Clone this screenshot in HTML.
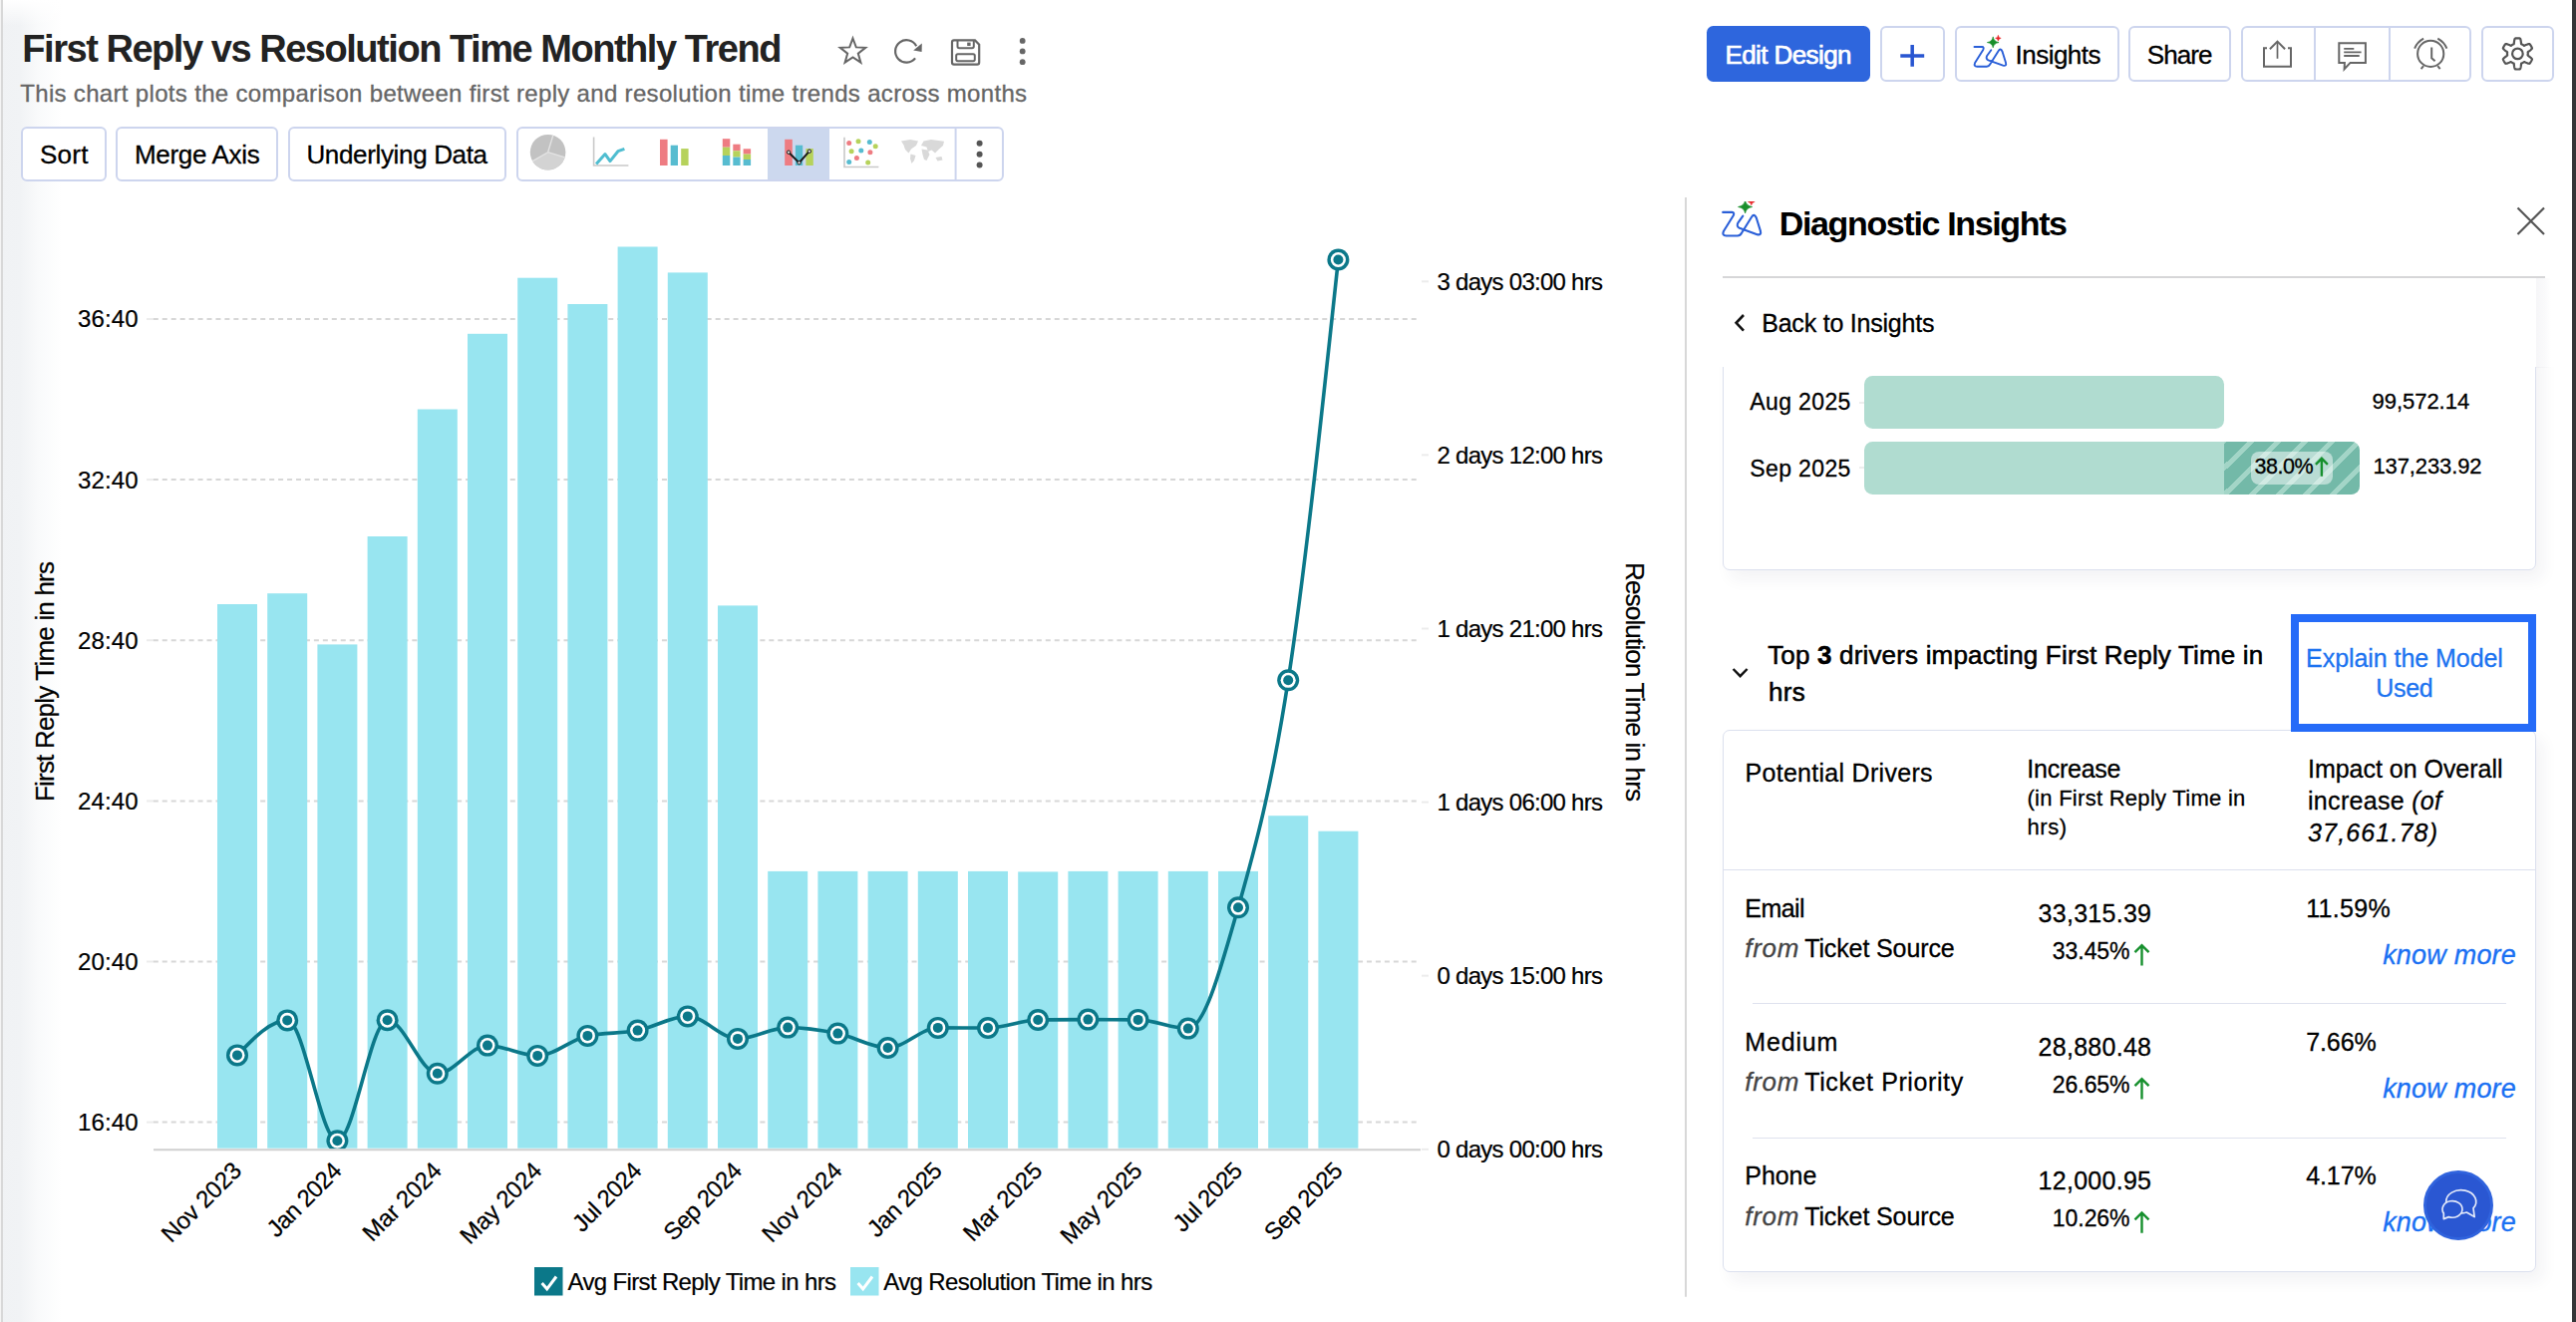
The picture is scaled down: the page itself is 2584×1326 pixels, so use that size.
<!DOCTYPE html><html><head><meta charset="utf-8"><title>First Reply vs Resolution Time Monthly Trend</title><style>
html,body{margin:0;padding:0;background:#fff}
body{width:2584px;height:1326px;position:relative;overflow:hidden;font-family:'Liberation Sans', sans-serif;color:#000}
.abs{position:absolute}
.t{position:absolute;white-space:pre;margin:0;-webkit-text-stroke:0.3px}
.t b{font-weight:700}
</style></head><body>
<div class="abs" style="left:0;top:0;width:64px;height:1326px;background:linear-gradient(to right,#f0f2f4 0,#f1f3f5 20px,#f9fafb 38px,#fff 62px)"></div>
<div class="abs" style="left:0;top:0;width:1px;height:1326px;background:#f4f4f4"></div>
<div class="abs" style="left:1px;top:0;width:2px;height:1326px;background:#d8d8d8"></div>
<div class="abs" style="left:3px;top:0;width:61px;height:26px;background:linear-gradient(to bottom,#fff,rgba(255,255,255,0))"></div>
<div class="abs" style="left:2580px;top:0;width:4px;height:1326px;background:#343537"></div>
<div class="abs" style="left:21px;top:127px;width:86px;height:55px;box-sizing:border-box;border:2px solid #cdd5ee;border-radius:6px;background:#fff;"></div>
<div class="abs" style="left:116px;top:127px;width:163px;height:55px;box-sizing:border-box;border:2px solid #cdd5ee;border-radius:6px;background:#fff;"></div>
<div class="abs" style="left:289px;top:127px;width:219px;height:55px;box-sizing:border-box;border:2px solid #cdd5ee;border-radius:6px;background:#fff;"></div>
<div class="abs" style="left:518px;top:127px;width:489px;height:55px;box-sizing:border-box;border:2px solid #cdd5ee;border-radius:6px;background:#fff;"></div>
<div class="abs" style="left:1711.5px;top:26.2px;width:164.5px;height:55.7px;border-radius:6.5px;background:#2e66dd"></div>
<div class="abs" style="left:1886px;top:26px;width:65px;height:56px;box-sizing:border-box;border:2px solid #cdd5ee;border-radius:6px;background:#fff;"></div>
<div class="abs" style="left:1961px;top:26px;width:165px;height:56px;box-sizing:border-box;border:2px solid #cdd5ee;border-radius:6px;background:#fff;"></div>
<div class="abs" style="left:2135px;top:26px;width:103px;height:56px;box-sizing:border-box;border:2px solid #cdd5ee;border-radius:6px;background:#fff;"></div>
<div class="abs" style="left:2248px;top:26px;width:231px;height:56px;box-sizing:border-box;border:2px solid #cdd5ee;border-radius:6px;background:#fff;"></div>
<div class="abs" style="left:2320.7px;top:28px;width:2px;height:52px;background:#cdd5ee"></div>
<div class="abs" style="left:2396px;top:28px;width:2px;height:52px;background:#cdd5ee"></div>
<div class="abs" style="left:2489px;top:26px;width:73px;height:56px;box-sizing:border-box;border:2px solid #cdd5ee;border-radius:6px;background:#fff;"></div>
<div class="abs" style="left:1727.8px;top:277px;width:825.2px;height:2.2px;background:#d6d6d8"></div>
<div class="abs" style="left:2544px;top:279px;width:15px;height:90px;background:linear-gradient(to right,#f6f6f8,#fafafb 60%,#fff)"></div>
<div class="abs" style="left:1697px;top:368.3px;width:880px;height:240px;overflow:hidden"><div style="position:absolute;left:30.7px;top:-20px;width:816.3px;height:224.2px;box-sizing:border-box;border:1px solid #dce0ee;border-radius:7px;background:#fff;box-shadow:7px 9px 16px rgba(30,40,70,.055)"></div></div>
<div class="abs" style="left:1865px;top:402.6px;width:5px;height:2px;background:#eee"></div>
<div class="abs" style="left:1865px;top:468.4px;width:5px;height:2px;background:#eee"></div>
<div class="abs" style="left:1870.3px;top:377.4px;width:360.5px;height:52.3px;border-radius:8.5px;background:#b0dcd0"></div>
<div class="abs" style="left:1870.3px;top:443.2px;width:497px;height:52.8px;border-radius:8.5px;background:#b0dcd0;overflow:hidden"><div style="position:absolute;left:360.7px;top:0;width:136.3px;height:52.8px;background:repeating-linear-gradient(135deg,#73b9a8 0,#73b9a8 14.6px,#a3d5c7 14.6px,#a3d5c7 19.1px);background-position:3px 0"></div></div>
<div class="abs" style="left:2258px;top:453px;width:82px;height:32.6px;border-radius:8px;background:rgba(255,255,255,.5)"></div>
<div class="abs" style="left:1727.7px;top:732.3px;width:816.3px;height:543.4px;box-sizing:border-box;border:1px solid #dce0ee;border-radius:7px;background:#fff;box-shadow:7px 9px 16px rgba(30,40,70,.055)"></div>
<div class="abs" style="left:2298px;top:616px;width:246px;height:118px;box-sizing:border-box;border:8px solid #256bf8;background:#fff"></div>
<div class="abs" style="left:1728.2px;top:871.5px;width:815.3px;height:1px;background:#dce0ee"></div>
<div class="abs" style="left:1758px;top:1006px;width:755.6px;height:1px;background:#dfe2ee"></div>
<div class="abs" style="left:1758px;top:1140.5px;width:755.6px;height:1px;background:#dfe2ee"></div>
<svg class="abs" style="left:0;top:0" width="2584" height="1326" viewBox="0 0 2584 1326">
<path d="M2328.9,477.7 V460.2 M2322.9,465.8 L2328.9,459.8 L2334.9,465.8" stroke="#17902e" stroke-width="2.4" fill="none"/>
<path d="M2148.5,968.6 V948.6 M2141.5,955.2 L2148.5,948.2 L2155.5,955.2" stroke="#17902e" stroke-width="2.4" fill="none"/>
<path d="M2148.5,1102.5 V1082.5 M2141.5,1089.1 L2148.5,1082.1 L2155.5,1089.1" stroke="#17902e" stroke-width="2.4" fill="none"/>
<path d="M2148.5,1236.8 V1216.8 M2141.5,1223.3999999999999 L2148.5,1216.3999999999999 L2155.5,1223.3999999999999" stroke="#17902e" stroke-width="2.4" fill="none"/>
</svg>
<svg class="abs" style="left:0;top:0" width="1700" height="1326" viewBox="0 0 1700 1326" font-family="'Liberation Sans', sans-serif">
<defs><clipPath id="plot"><rect x="150" y="200" width="1280" height="952.2"/></clipPath></defs>
<line x1="147" y1="320.0" x2="153.8" y2="320.0" stroke="#ececec" stroke-width="2"/>
<line x1="153.8" y1="320.0" x2="1421" y2="320.0" stroke="#d7d7d7" stroke-width="2" stroke-dasharray="5 3.95"/>
<line x1="147" y1="481.1" x2="153.8" y2="481.1" stroke="#ececec" stroke-width="2"/>
<line x1="153.8" y1="481.1" x2="1421" y2="481.1" stroke="#d7d7d7" stroke-width="2" stroke-dasharray="5 3.95"/>
<line x1="147" y1="642.2" x2="153.8" y2="642.2" stroke="#ececec" stroke-width="2"/>
<line x1="153.8" y1="642.2" x2="1421" y2="642.2" stroke="#d7d7d7" stroke-width="2" stroke-dasharray="5 3.95"/>
<line x1="147" y1="803.4" x2="153.8" y2="803.4" stroke="#ececec" stroke-width="2"/>
<line x1="153.8" y1="803.4" x2="1421" y2="803.4" stroke="#d7d7d7" stroke-width="2" stroke-dasharray="5 3.95"/>
<line x1="147" y1="964.5" x2="153.8" y2="964.5" stroke="#ececec" stroke-width="2"/>
<line x1="153.8" y1="964.5" x2="1421" y2="964.5" stroke="#d7d7d7" stroke-width="2" stroke-dasharray="5 3.95"/>
<line x1="147" y1="1125.6" x2="153.8" y2="1125.6" stroke="#ececec" stroke-width="2"/>
<line x1="153.8" y1="1125.6" x2="1421" y2="1125.6" stroke="#d7d7d7" stroke-width="2" stroke-dasharray="5 3.95"/>
<line x1="1426" y1="282.3" x2="1433" y2="282.3" stroke="#ececec" stroke-width="2"/>
<line x1="1426" y1="456.4" x2="1433" y2="456.4" stroke="#ececec" stroke-width="2"/>
<line x1="1426" y1="630.5" x2="1433" y2="630.5" stroke="#ececec" stroke-width="2"/>
<line x1="1426" y1="804.6" x2="1433" y2="804.6" stroke="#ececec" stroke-width="2"/>
<line x1="1426" y1="978.7" x2="1433" y2="978.7" stroke="#ececec" stroke-width="2"/>
<line x1="1426" y1="1152.8" x2="1433" y2="1152.8" stroke="#ececec" stroke-width="2"/>
<rect x="218.0" y="606.0" width="40.0" height="545.7" fill="#98e5f0"/>
<rect x="268.2" y="595.2" width="40.0" height="556.5" fill="#98e5f0"/>
<rect x="318.4" y="646.4" width="40.0" height="505.3" fill="#98e5f0"/>
<rect x="368.6" y="538.0" width="40.0" height="613.7" fill="#98e5f0"/>
<rect x="418.8" y="410.5" width="40.0" height="741.2" fill="#98e5f0"/>
<rect x="469.0" y="334.8" width="40.0" height="816.9" fill="#98e5f0"/>
<rect x="519.2" y="278.7" width="40.0" height="873.0" fill="#98e5f0"/>
<rect x="569.4" y="305.0" width="40.0" height="846.7" fill="#98e5f0"/>
<rect x="619.6" y="247.5" width="40.0" height="904.2" fill="#98e5f0"/>
<rect x="669.8" y="273.4" width="40.0" height="878.3" fill="#98e5f0"/>
<rect x="720.0" y="607.4" width="40.0" height="544.3" fill="#98e5f0"/>
<rect x="770.2" y="873.9" width="40.0" height="277.8" fill="#98e5f0"/>
<rect x="820.4" y="873.9" width="40.0" height="277.8" fill="#98e5f0"/>
<rect x="870.6" y="873.9" width="40.0" height="277.8" fill="#98e5f0"/>
<rect x="920.8" y="873.9" width="40.0" height="277.8" fill="#98e5f0"/>
<rect x="971.0" y="873.9" width="40.0" height="277.8" fill="#98e5f0"/>
<rect x="1021.2" y="874.4" width="40.0" height="277.3" fill="#98e5f0"/>
<rect x="1071.4" y="873.9" width="40.0" height="277.8" fill="#98e5f0"/>
<rect x="1121.6" y="873.9" width="40.0" height="277.8" fill="#98e5f0"/>
<rect x="1171.8" y="873.9" width="40.0" height="277.8" fill="#98e5f0"/>
<rect x="1222.0" y="873.9" width="40.0" height="277.8" fill="#98e5f0"/>
<rect x="1272.2" y="818.2" width="40.0" height="333.5" fill="#98e5f0"/>
<rect x="1322.4" y="833.7" width="40.0" height="318.0" fill="#98e5f0"/>
<g clip-path="url(#plot)">
<path d="M238.0,1058.4C254.7,1040.9 271.5,1023.4 288.2,1023.4C304.9,1023.4 321.7,1144.2 338.4,1144.2C355.1,1144.2 371.9,1023.2 388.6,1023.2C405.3,1023.2 422.1,1076.8 438.8,1076.8C455.5,1076.8 472.3,1048.6 489.0,1048.6C505.7,1048.6 522.5,1058.9 539.2,1058.9C555.9,1058.9 572.7,1042.4 589.4,1038.9C606.1,1035.4 622.9,1036.8 639.6,1033.6C656.3,1030.3 673.1,1019.4 689.8,1019.4C706.5,1019.4 723.3,1041.9 740.0,1041.9C756.7,1041.9 773.5,1030.6 790.2,1030.6C806.9,1030.6 823.7,1033.2 840.4,1036.6C857.1,1040.0 873.9,1051.0 890.6,1051.0C907.3,1051.0 924.1,1030.9 940.8,1030.9C957.5,1030.9 974.3,1031.0 991.0,1031.0C1007.7,1031.0 1024.5,1023.3 1041.2,1023.0C1057.9,1022.7 1074.7,1022.6 1091.4,1022.6C1108.1,1022.6 1124.9,1022.7 1141.6,1022.9C1158.3,1023.1 1175.1,1031.6 1191.8,1031.6C1208.5,1031.6 1225.3,968.5 1242.0,910.3C1258.7,852.1 1275.5,790.6 1292.2,682.3C1308.9,574.0 1325.7,417.2 1342.4,260.5" fill="none" stroke="#0b7889" stroke-width="3.6" stroke-linejoin="round"/>
<circle cx="238.0" cy="1058.4" r="11" fill="#0b7889"/><circle cx="238.0" cy="1058.4" r="7.55" fill="#fff"/><circle cx="238.0" cy="1058.4" r="5" fill="#0b7889"/>
<circle cx="288.2" cy="1023.4" r="11" fill="#0b7889"/><circle cx="288.2" cy="1023.4" r="7.55" fill="#fff"/><circle cx="288.2" cy="1023.4" r="5" fill="#0b7889"/>
<circle cx="338.4" cy="1144.2" r="11" fill="#0b7889"/><circle cx="338.4" cy="1144.2" r="7.55" fill="#fff"/><circle cx="338.4" cy="1144.2" r="5" fill="#0b7889"/>
<circle cx="388.6" cy="1023.2" r="11" fill="#0b7889"/><circle cx="388.6" cy="1023.2" r="7.55" fill="#fff"/><circle cx="388.6" cy="1023.2" r="5" fill="#0b7889"/>
<circle cx="438.8" cy="1076.8" r="11" fill="#0b7889"/><circle cx="438.8" cy="1076.8" r="7.55" fill="#fff"/><circle cx="438.8" cy="1076.8" r="5" fill="#0b7889"/>
<circle cx="489.0" cy="1048.6" r="11" fill="#0b7889"/><circle cx="489.0" cy="1048.6" r="7.55" fill="#fff"/><circle cx="489.0" cy="1048.6" r="5" fill="#0b7889"/>
<circle cx="539.2" cy="1058.9" r="11" fill="#0b7889"/><circle cx="539.2" cy="1058.9" r="7.55" fill="#fff"/><circle cx="539.2" cy="1058.9" r="5" fill="#0b7889"/>
<circle cx="589.4" cy="1038.9" r="11" fill="#0b7889"/><circle cx="589.4" cy="1038.9" r="7.55" fill="#fff"/><circle cx="589.4" cy="1038.9" r="5" fill="#0b7889"/>
<circle cx="639.6" cy="1033.6" r="11" fill="#0b7889"/><circle cx="639.6" cy="1033.6" r="7.55" fill="#fff"/><circle cx="639.6" cy="1033.6" r="5" fill="#0b7889"/>
<circle cx="689.8" cy="1019.4" r="11" fill="#0b7889"/><circle cx="689.8" cy="1019.4" r="7.55" fill="#fff"/><circle cx="689.8" cy="1019.4" r="5" fill="#0b7889"/>
<circle cx="740.0" cy="1041.9" r="11" fill="#0b7889"/><circle cx="740.0" cy="1041.9" r="7.55" fill="#fff"/><circle cx="740.0" cy="1041.9" r="5" fill="#0b7889"/>
<circle cx="790.2" cy="1030.6" r="11" fill="#0b7889"/><circle cx="790.2" cy="1030.6" r="7.55" fill="#fff"/><circle cx="790.2" cy="1030.6" r="5" fill="#0b7889"/>
<circle cx="840.4" cy="1036.6" r="11" fill="#0b7889"/><circle cx="840.4" cy="1036.6" r="7.55" fill="#fff"/><circle cx="840.4" cy="1036.6" r="5" fill="#0b7889"/>
<circle cx="890.6" cy="1051.0" r="11" fill="#0b7889"/><circle cx="890.6" cy="1051.0" r="7.55" fill="#fff"/><circle cx="890.6" cy="1051.0" r="5" fill="#0b7889"/>
<circle cx="940.8" cy="1030.9" r="11" fill="#0b7889"/><circle cx="940.8" cy="1030.9" r="7.55" fill="#fff"/><circle cx="940.8" cy="1030.9" r="5" fill="#0b7889"/>
<circle cx="991.0" cy="1031.0" r="11" fill="#0b7889"/><circle cx="991.0" cy="1031.0" r="7.55" fill="#fff"/><circle cx="991.0" cy="1031.0" r="5" fill="#0b7889"/>
<circle cx="1041.2" cy="1023.0" r="11" fill="#0b7889"/><circle cx="1041.2" cy="1023.0" r="7.55" fill="#fff"/><circle cx="1041.2" cy="1023.0" r="5" fill="#0b7889"/>
<circle cx="1091.4" cy="1022.6" r="11" fill="#0b7889"/><circle cx="1091.4" cy="1022.6" r="7.55" fill="#fff"/><circle cx="1091.4" cy="1022.6" r="5" fill="#0b7889"/>
<circle cx="1141.6" cy="1022.9" r="11" fill="#0b7889"/><circle cx="1141.6" cy="1022.9" r="7.55" fill="#fff"/><circle cx="1141.6" cy="1022.9" r="5" fill="#0b7889"/>
<circle cx="1191.8" cy="1031.6" r="11" fill="#0b7889"/><circle cx="1191.8" cy="1031.6" r="7.55" fill="#fff"/><circle cx="1191.8" cy="1031.6" r="5" fill="#0b7889"/>
<circle cx="1242.0" cy="910.3" r="11" fill="#0b7889"/><circle cx="1242.0" cy="910.3" r="7.55" fill="#fff"/><circle cx="1242.0" cy="910.3" r="5" fill="#0b7889"/>
<circle cx="1292.2" cy="682.3" r="11" fill="#0b7889"/><circle cx="1292.2" cy="682.3" r="7.55" fill="#fff"/><circle cx="1292.2" cy="682.3" r="5" fill="#0b7889"/>
<circle cx="1342.4" cy="260.5" r="11" fill="#0b7889"/><circle cx="1342.4" cy="260.5" r="7.55" fill="#fff"/><circle cx="1342.4" cy="260.5" r="5" fill="#0b7889"/>
</g>
<line x1="154" y1="1153.2" x2="1425" y2="1153.2" stroke="#d0d0d0" stroke-width="2"/>
<g fill="#000" stroke="#000" stroke-width="0.22">
<text x="138.6" y="328.4" font-size="24" text-anchor="end" textLength="60.5" lengthAdjust="spacing">36:40</text>
<text x="138.6" y="489.5" font-size="24" text-anchor="end" textLength="60.5" lengthAdjust="spacing">32:40</text>
<text x="138.6" y="650.6" font-size="24" text-anchor="end" textLength="60.5" lengthAdjust="spacing">28:40</text>
<text x="138.6" y="811.8" font-size="24" text-anchor="end" textLength="60.5" lengthAdjust="spacing">24:40</text>
<text x="138.6" y="972.9" font-size="24" text-anchor="end" textLength="60.5" lengthAdjust="spacing">20:40</text>
<text x="138.6" y="1134.0" font-size="24" text-anchor="end" textLength="60.5" lengthAdjust="spacing">16:40</text>
<text x="1441.5" y="290.7" font-size="24" textLength="166.5" lengthAdjust="spacing">3 days 03:00 hrs</text>
<text x="1441.5" y="464.8" font-size="24" textLength="166.5" lengthAdjust="spacing">2 days 12:00 hrs</text>
<text x="1441.5" y="638.9" font-size="24" textLength="166.5" lengthAdjust="spacing">1 days 21:00 hrs</text>
<text x="1441.5" y="813.0" font-size="24" textLength="166.5" lengthAdjust="spacing">1 days 06:00 hrs</text>
<text x="1441.5" y="987.1" font-size="24" textLength="166.5" lengthAdjust="spacing">0 days 15:00 hrs</text>
<text x="1441.5" y="1161.2" font-size="24" textLength="166.5" lengthAdjust="spacing">0 days 00:00 hrs</text>
<text transform="translate(54.2,683.5) rotate(-90)" font-size="26" text-anchor="middle" textLength="241" lengthAdjust="spacing">First Reply Time in hrs</text>
<text transform="translate(1631.4,684) rotate(90)" font-size="26" text-anchor="middle" textLength="240" lengthAdjust="spacing">Resolution Time in hrs</text>
<text transform="translate(243.7,1175.6) rotate(-45)" font-size="24" text-anchor="end" textLength="101.7" lengthAdjust="spacing">Nov 2023</text>
<text transform="translate(344.1,1175.6) rotate(-45)" font-size="24" text-anchor="end" textLength="94.3" lengthAdjust="spacing">Jan 2024</text>
<text transform="translate(444.5,1175.6) rotate(-45)" font-size="24" text-anchor="end" textLength="100.4" lengthAdjust="spacing">Mar 2024</text>
<text transform="translate(544.9,1175.6) rotate(-45)" font-size="24" text-anchor="end" textLength="104.3" lengthAdjust="spacing">May 2024</text>
<text transform="translate(645.3,1175.6) rotate(-45)" font-size="24" text-anchor="end" textLength="86.7" lengthAdjust="spacing">Jul 2024</text>
<text transform="translate(745.7,1175.6) rotate(-45)" font-size="24" text-anchor="end" textLength="99.2" lengthAdjust="spacing">Sep 2024</text>
<text transform="translate(846.1,1175.6) rotate(-45)" font-size="24" text-anchor="end" textLength="101.7" lengthAdjust="spacing">Nov 2024</text>
<text transform="translate(946.5,1175.6) rotate(-45)" font-size="24" text-anchor="end" textLength="94.3" lengthAdjust="spacing">Jan 2025</text>
<text transform="translate(1046.9,1175.6) rotate(-45)" font-size="24" text-anchor="end" textLength="100.4" lengthAdjust="spacing">Mar 2025</text>
<text transform="translate(1147.3,1175.6) rotate(-45)" font-size="24" text-anchor="end" textLength="104.3" lengthAdjust="spacing">May 2025</text>
<text transform="translate(1247.7,1175.6) rotate(-45)" font-size="24" text-anchor="end" textLength="86.7" lengthAdjust="spacing">Jul 2025</text>
<text transform="translate(1348.1,1175.6) rotate(-45)" font-size="24" text-anchor="end" textLength="99.2" lengthAdjust="spacing">Sep 2025</text>
</g>
<rect x="536" y="1271" width="28.5" height="28.5" fill="#0b7889"/>
<path d="M543.6,1287 L548.7,1292.8 L558,1280.5" fill="none" stroke="#fff" stroke-width="3"/>
<rect x="853" y="1271" width="28.5" height="28.5" fill="#98e5f0"/>
<path d="M860.6,1287 L865.7,1292.8 L875,1280.5" fill="none" stroke="#fff" stroke-width="3"/>
<g fill="#000" stroke="#000" stroke-width="0.22">
<text x="569.5" y="1293.8" font-size="24" textLength="269.5" lengthAdjust="spacing">Avg First Reply Time in hrs</text>
<text x="886.2" y="1293.8" font-size="24" textLength="270" lengthAdjust="spacing">Avg Resolution Time in hrs</text></g>
</svg>
<svg class="abs" style="left:0;top:0" width="2584" height="1326" viewBox="0 0 2584 1326" fill="none">
<path d="M855.5,38.5 L858.8,47.4 L868.2,47.8 L860.8,53.6 L863.4,62.7 L855.5,57.5 L847.6,62.7 L850.2,53.6 L842.8,47.8 L852.2,47.4Z" stroke="#666" stroke-width="2" stroke-linejoin="miter"/>
<path d="M918.1,58.4 A11.2,11.2 0 1 1 919.2,46.2" stroke="#666" stroke-width="2.2"/>
<path d="M924.8,43.6 L924.6,52 L916.2,50.6 Z" fill="#666"/>
<path d="M957,40.4 H978 L982.2,44.6 V62.5 Q982.2,64.6 980.2,64.6 H957 Q955,64.6 955,62.5 V42.4 Q955,40.4 957,40.4Z" stroke="#666" stroke-width="2.2"/>
<path d="M960.5,40.4 V46.5 Q960.5,48.3 962.3,48.3 H975 Q976.8,48.3 976.8,46.5 V40.4" stroke="#666" stroke-width="2"/>
<rect x="970.2" y="42.6" width="3.4" height="3.4" fill="#666"/>
<rect x="959.2" y="54.2" width="18.6" height="7" rx="1.6" stroke="#666" stroke-width="2"/>
<circle cx="1025.7" cy="40.9" r="2.9" fill="#666"/>
<circle cx="1025.7" cy="51.4" r="2.9" fill="#666"/>
<circle cx="1025.7" cy="62.2" r="2.9" fill="#666"/>
<rect x="770" y="129" width="62" height="51" fill="#ccd8ee"/>
<circle cx="549.6" cy="152.7" r="17.8" fill="#c2c2c2"/>
<path d="M549.6,152.7 L566.6,157.9 A17.8,17.8 0 0 1 534.2,161.6Z" fill="#d3d3d3"/>
<line x1="549.6" y1="152.7" x2="554.8" y2="135.7" stroke="#e4e4e4" stroke-width="1.3"/>
<line x1="549.6" y1="152.7" x2="566.6" y2="157.9" stroke="#e4e4e4" stroke-width="1.3"/>
<line x1="549.6" y1="152.7" x2="534.2" y2="161.6" stroke="#e4e4e4" stroke-width="1.3"/>
<path d="M595.6,137.4 V166 H630.4" stroke="#c9c9c9" stroke-width="1.6"/>
<path d="M598.1,164.5 L607,154.6 L612,161.6 L619.9,151.7 L626.4,149.3" stroke="#4fbdd0" stroke-width="3" stroke-linejoin="round"/>
<rect x="662" y="139.8" width="7.6" height="26.2" fill="#ee7c82"/><rect x="672.7" y="145.7" width="7.3" height="20.3" fill="#57bcd0"/><rect x="683.2" y="149.1" width="7.4" height="16.9" fill="#b6d25b"/>
<rect x="724.8" y="139.2" width="7.5" height="8.5" fill="#ee7c82"/><rect x="724.8" y="147.7" width="7.5" height="8.3" fill="#b6d25b"/><rect x="724.8" y="156" width="7.5" height="10.0" fill="#57bcd0"/>
<rect x="735.3" y="144.7" width="7.3" height="6.6" fill="#ee7c82"/><rect x="735.3" y="151.3" width="7.3" height="6.3" fill="#b6d25b"/><rect x="735.3" y="157.6" width="7.3" height="8.4" fill="#57bcd0"/>
<rect x="745.6" y="149.3" width="7.5" height="5.3" fill="#ee7c82"/><rect x="745.6" y="154.6" width="7.5" height="5.4" fill="#b6d25b"/><rect x="745.6" y="160" width="7.5" height="6.0" fill="#57bcd0"/>
<rect x="787.2" y="139.8" width="7.6" height="26.2" fill="#ee7c82"/><rect x="797.9000000000001" y="145.7" width="7.3" height="20.3" fill="#57bcd0"/><rect x="808.4000000000001" y="149.1" width="7.4" height="16.9" fill="#b6d25b"/>
<path d="M791.1,152.7 L801.6,163.2 L811.9,151.7" stroke="#1a1a1a" stroke-width="2"/>
<circle cx="791.1" cy="152.7" r="1.7" fill="#ddd" stroke="#1a1a1a" stroke-width="1"/>
<circle cx="801.6" cy="163.2" r="1.7" fill="#ddd" stroke="#1a1a1a" stroke-width="1"/>
<circle cx="811.9" cy="151.7" r="1.7" fill="#ddd" stroke="#1a1a1a" stroke-width="1"/>
<path d="M847,137.8 V167.5 H881.4" stroke="#c9c9c9" stroke-width="1.6"/>
<circle cx="851.7" cy="143.4" r="2.5" fill="#ee7c82"/>
<circle cx="861" cy="141.8" r="2.5" fill="#b6d25b"/>
<circle cx="872.3" cy="142.4" r="2.5" fill="#57bcd0"/>
<circle cx="878.2" cy="146.7" r="2.5" fill="#b6d25b"/>
<circle cx="854.1" cy="151.7" r="2.5" fill="#b6d25b"/>
<circle cx="863.8" cy="151.1" r="2.5" fill="#57bcd0"/>
<circle cx="872.9" cy="152.7" r="2.5" fill="#ee7c82"/>
<circle cx="859.4" cy="158.6" r="2.5" fill="#ee7c82"/>
<circle cx="851.7" cy="162.6" r="2.5" fill="#57bcd0"/>
<circle cx="870.7" cy="163" r="2.5" fill="#b6d25b"/>
<path d="M904,141.5 L913,140 L921,141.5 L919,146 L914,149.5 L911.5,153.5 L908,150 L906.5,145.5Z" fill="#d9d9d9"/>
<path d="M913.5,154.5 L918.5,156 L917,161 L914.5,164 L913,159Z" fill="#d9d9d9"/>
<path d="M924,146 L926.5,141.5 L934,140 L947,141.8 L946,146 L941.5,150 L938,153.5 L934.5,150.5 L931,152 L929.5,147.5 Z" fill="#d9d9d9"/>
<path d="M924.5,149.5 L930.5,150.5 L932.5,155 L929.5,161 L927,160 L925.5,155 Z" fill="#d9d9d9"/>
<path d="M938.5,158 L944.5,157 L945.5,160.5 L940.5,161.5Z" fill="#d9d9d9"/>
<line x1="958.6" y1="129" x2="958.6" y2="180" stroke="#cdd5ee" stroke-width="2"/>
<circle cx="982.6" cy="143.8" r="3" fill="#555"/>
<circle cx="982.6" cy="154.7" r="3" fill="#555"/>
<circle cx="982.6" cy="165.5" r="3" fill="#555"/>
<path d="M1906.3,55.9 H1930.2 M1918.2,45.1 V66.7" stroke="#2855d1" stroke-width="3.5"/>
<g transform="translate(1979.5,36.3) scale(0.835)" fill="none" stroke-linecap="round" stroke-linejoin="round"><path d="M1.2,12.9 H10.4 Q13.2,13 11.7,16.3 L1.9,32 Q0,36.3 4.6,36.5 H16 Q18.6,36.5 20,33.8 L30,17.8 Q32.6,13.6 34.8,18.5 L38.9,31.6 Q40.2,36.2 35.6,35.2 L17.9,28.8 Q14.6,27.3 16.3,23.6 L21.3,16.7" stroke="#2a5fd8" stroke-width="2.28"/><path d="M23.6,1.2000000000000002 Q24.5,6.6 30.6,7.5 Q24.5,8.4 23.6,13.8 Q22.700000000000003,8.4 16.6,7.5 Q22.700000000000003,6.6 23.6,1.2000000000000002Z" fill="#1a8f2c" stroke="#1a8f2c" stroke-width="0.8"/><path d="M29.8,-1.0 Q30.3,1.9 33.2,2.4 Q30.3,2.9 29.8,5.8 Q29.3,2.9 26.400000000000002,2.4 Q29.3,1.9 29.8,-1.0Z" fill="#e8282a" stroke="#e8282a" stroke-width="0.5"/></g>
<path d="M2274,48.3 H2271 V66.8 H2298 V48.3 H2295" stroke="#666" stroke-width="2"/>
<path d="M2284.5,58.8 V42.4" stroke="#666" stroke-width="1.7"/><path d="M2276.9,49.2 L2284.5,41.6 L2292.1,49.2" stroke="#666" stroke-width="2"/>
<path d="M2346.3,43.3 H2372.9 V62.9 H2357.6 L2351.6,69.3 L2351.9,62.9 H2346.3Z" stroke="#666" stroke-width="2"/>
<path d="M2351.2,48.9 H2361.3 M2351.2,52.4 H2368.6 M2351.2,56 H2366.7" stroke="#666" stroke-width="1.8"/>
<circle cx="2438.2" cy="53.9" r="13.1" stroke="#666" stroke-width="2"/>
<path d="M2439.2,47.4 V58.2 L2442.6,61.3" stroke="#666" stroke-width="2"/>
<path d="M2422.1,48.7 Q2424.6,42.3 2431.1,38.7 M2454.4,48.7 Q2451.9,42.3 2445.3,38.7" stroke="#666" stroke-width="2"/>
<path d="M2431.1,66.1 L2428.6,69.1 M2445.2,66.1 L2447.7,69.1" stroke="#666" stroke-width="2"/>
<path d="M2525.40,69.50 L2524.99,69.49 L2524.58,69.48 L2524.18,69.45 L2523.77,69.41 L2523.36,69.37 L2522.96,69.31 L2522.62,68.89 L2522.38,68.11 L2522.18,67.29 L2522.04,66.46 L2521.93,65.62 L2521.85,64.81 L2521.81,64.04 L2521.67,63.61 L2521.42,63.51 L2521.17,63.40 L2520.92,63.29 L2520.68,63.17 L2520.44,63.04 L2520.20,62.91 L2519.97,62.77 L2519.74,62.62 L2519.51,62.47 L2519.29,62.31 L2519.07,62.15 L2518.86,61.98 L2518.41,62.08 L2517.72,62.43 L2516.98,62.77 L2516.21,63.09 L2515.41,63.38 L2514.60,63.62 L2513.81,63.80 L2513.28,63.72 L2513.02,63.40 L2512.78,63.07 L2512.54,62.74 L2512.32,62.40 L2512.10,62.05 L2511.89,61.70 L2511.69,61.34 L2511.50,60.98 L2511.32,60.62 L2511.15,60.25 L2510.99,59.87 L2510.84,59.49 L2511.03,58.99 L2511.58,58.39 L2512.19,57.81 L2512.84,57.26 L2513.51,56.75 L2514.18,56.29 L2514.82,55.86 L2515.13,55.53 L2515.09,55.26 L2515.06,54.99 L2515.03,54.72 L2515.01,54.44 L2515.00,54.17 L2515.00,53.90 L2515.00,53.63 L2515.01,53.36 L2515.03,53.08 L2515.06,52.81 L2515.09,52.54 L2515.13,52.27 L2514.82,51.94 L2514.18,51.51 L2513.51,51.05 L2512.84,50.54 L2512.19,49.99 L2511.58,49.41 L2511.03,48.81 L2510.84,48.31 L2510.99,47.93 L2511.15,47.55 L2511.32,47.18 L2511.50,46.82 L2511.69,46.46 L2511.89,46.10 L2512.10,45.75 L2512.32,45.40 L2512.54,45.06 L2512.78,44.73 L2513.02,44.40 L2513.28,44.08 L2513.81,44.00 L2514.60,44.18 L2515.41,44.42 L2516.21,44.71 L2516.98,45.03 L2517.72,45.37 L2518.41,45.72 L2518.86,45.82 L2519.07,45.65 L2519.29,45.49 L2519.51,45.33 L2519.74,45.18 L2519.97,45.03 L2520.20,44.89 L2520.44,44.76 L2520.68,44.63 L2520.92,44.51 L2521.17,44.40 L2521.42,44.29 L2521.67,44.19 L2521.81,43.76 L2521.85,42.99 L2521.93,42.18 L2522.04,41.34 L2522.18,40.51 L2522.38,39.69 L2522.62,38.91 L2522.96,38.49 L2523.36,38.43 L2523.77,38.39 L2524.18,38.35 L2524.58,38.32 L2524.99,38.31 L2525.40,38.30 L2525.81,38.31 L2526.22,38.32 L2526.62,38.35 L2527.03,38.39 L2527.44,38.43 L2527.84,38.49 L2528.18,38.91 L2528.42,39.69 L2528.62,40.51 L2528.76,41.34 L2528.87,42.18 L2528.95,42.99 L2528.99,43.76 L2529.13,44.19 L2529.38,44.29 L2529.63,44.40 L2529.88,44.51 L2530.12,44.63 L2530.36,44.76 L2530.60,44.89 L2530.83,45.03 L2531.06,45.18 L2531.29,45.33 L2531.51,45.49 L2531.73,45.65 L2531.94,45.82 L2532.39,45.72 L2533.08,45.37 L2533.82,45.03 L2534.59,44.71 L2535.39,44.42 L2536.20,44.18 L2536.99,44.00 L2537.52,44.08 L2537.78,44.40 L2538.02,44.73 L2538.26,45.06 L2538.48,45.40 L2538.70,45.75 L2538.91,46.10 L2539.11,46.46 L2539.30,46.82 L2539.48,47.18 L2539.65,47.55 L2539.81,47.93 L2539.96,48.31 L2539.77,48.81 L2539.22,49.41 L2538.61,49.99 L2537.96,50.54 L2537.29,51.05 L2536.62,51.51 L2535.98,51.94 L2535.67,52.27 L2535.71,52.54 L2535.74,52.81 L2535.77,53.08 L2535.79,53.36 L2535.80,53.63 L2535.80,53.90 L2535.80,54.17 L2535.79,54.44 L2535.77,54.72 L2535.74,54.99 L2535.71,55.26 L2535.67,55.53 L2535.98,55.86 L2536.62,56.29 L2537.29,56.75 L2537.96,57.26 L2538.61,57.81 L2539.22,58.39 L2539.77,58.99 L2539.96,59.49 L2539.81,59.87 L2539.65,60.25 L2539.48,60.62 L2539.30,60.98 L2539.11,61.34 L2538.91,61.70 L2538.70,62.05 L2538.48,62.40 L2538.26,62.74 L2538.02,63.07 L2537.78,63.40 L2537.52,63.72 L2536.99,63.80 L2536.20,63.62 L2535.39,63.38 L2534.59,63.09 L2533.82,62.77 L2533.08,62.43 L2532.39,62.08 L2531.94,61.98 L2531.73,62.15 L2531.51,62.31 L2531.29,62.47 L2531.06,62.62 L2530.83,62.77 L2530.60,62.91 L2530.36,63.04 L2530.12,63.17 L2529.88,63.29 L2529.63,63.40 L2529.38,63.51 L2529.13,63.61 L2528.99,64.04 L2528.95,64.81 L2528.87,65.62 L2528.76,66.46 L2528.62,67.29 L2528.42,68.11 L2528.18,68.89 L2527.84,69.31 L2527.44,69.37 L2527.03,69.41 L2526.62,69.45 L2526.22,69.48 L2525.81,69.49Z" stroke="#555" stroke-width="2.2" stroke-linejoin="round"/>
<circle cx="2525.4" cy="53.9" r="5.3" stroke="#555" stroke-width="2.2"/>
<line x1="1691" y1="198" x2="1691" y2="1300.8" stroke="#d8d8d8" stroke-width="2"/>
<svg x="1720" y="202" width="60" height="40" viewBox="1720 202 60 40"><g transform="translate(1727,200) scale(1.0)" fill="none" stroke-linecap="round" stroke-linejoin="round"><path d="M1.2,12.9 H10.4 Q13.2,13 11.7,16.3 L1.9,32 Q0,36.3 4.6,36.5 H16 Q18.6,36.5 20,33.8 L30,17.8 Q32.6,13.6 34.8,18.5 L38.9,31.6 Q40.2,36.2 35.6,35.2 L17.9,28.8 Q14.6,27.3 16.3,23.6 L21.3,16.7" stroke="#2a5fd8" stroke-width="2.10"/><path d="M23.6,1.2000000000000002 Q24.5,6.6 30.6,7.5 Q24.5,8.4 23.6,13.8 Q22.700000000000003,8.4 16.6,7.5 Q22.700000000000003,6.6 23.6,1.2000000000000002Z" fill="#1a8f2c" stroke="#1a8f2c" stroke-width="0.8"/><path d="M29.8,-1.0 Q30.3,1.9 33.2,2.4 Q30.3,2.9 29.8,5.8 Q29.3,2.9 26.400000000000002,2.4 Q29.3,1.9 29.8,-1.0Z" fill="#e8282a" stroke="#e8282a" stroke-width="0.5"/></g></svg>
<path d="M2525.5,208.5 L2552,235 M2552,208.5 L2525.5,235" stroke="#555" stroke-width="2.2"/>
<path d="M1749,316 L1741.6,323.8 L1749,331.6" stroke="#111" stroke-width="2.6"/>
<path d="M1738.6,671 L1745.6,678.2 L1752.6,671" stroke="#111" stroke-width="2.4"/>
</svg>
<span class="t" style="left:22.32px;top:30.23px;font-size:38px;line-height:38px;letter-spacing:-1.461px;font-weight:700;color:#222;-webkit-text-stroke:0;">First Reply vs Resolution Time Monthly Trend</span>
<span class="t" style="left:20.26px;top:81.68px;font-size:24px;line-height:24px;letter-spacing:0.323px;color:#666;">This chart plots the comparison between first reply and resolution time trends across months</span>
<span class="t" style="left:39.94px;top:141.99px;font-size:26px;line-height:26px;letter-spacing:0.277px;">Sort</span>
<span class="t" style="left:134.94px;top:141.99px;font-size:26px;line-height:26px;letter-spacing:-0.321px;">Merge Axis</span>
<span class="t" style="left:307.44px;top:141.99px;font-size:26px;line-height:26px;letter-spacing:-0.344px;">Underlying Data</span>
<span class="t" style="left:1730.44px;top:41.99px;font-size:26px;line-height:26px;letter-spacing:-0.585px;color:#fff;-webkit-text-stroke:0.7px #fff;">Edit Design</span>
<span class="t" style="left:2021.44px;top:41.99px;font-size:26px;line-height:26px;letter-spacing:-0.498px;">Insights</span>
<span class="t" style="left:2153.84px;top:41.99px;font-size:26px;line-height:26px;letter-spacing:-0.918px;">Share</span>
<span class="t" style="left:1784.76px;top:207.02px;font-size:34px;line-height:34px;letter-spacing:-1.351px;font-weight:700;-webkit-text-stroke:0;">Diagnostic Insights</span>
<span class="t" style="left:1767.20px;top:311.84px;font-size:25px;line-height:25px;letter-spacing:-0.212px;">Back to Insights</span>
<span class="t" style="left:1755.32px;top:392.33px;font-size:23px;line-height:23px;letter-spacing:0.368px;">Aug 2025</span>
<span class="t" style="left:1755.32px;top:458.83px;font-size:23px;line-height:23px;letter-spacing:0.368px;">Sep 2025</span>
<span class="t" style="left:2261.41px;top:458.10px;font-size:21.5px;line-height:21.5px;letter-spacing:-0.447px;">38.0%</span>
<span class="t" style="left:2379.58px;top:392.28px;font-size:22px;line-height:22px;letter-spacing:-0.042px;">99,572.14</span>
<span class="t" style="left:2380.38px;top:457.08px;font-size:22px;line-height:22px;letter-spacing:-0.108px;">137,233.92</span>
<span class="t" style="left:1773.14px;top:643.79px;font-size:26px;line-height:26px;letter-spacing:0.174px;-webkit-text-stroke:0.55px;">Top <b>3</b> drivers impacting First Reply Time in</span>
<span class="t" style="left:1773.94px;top:681.29px;font-size:26px;line-height:26px;letter-spacing:0.297px;-webkit-text-stroke:0.55px;">hrs</span>
<span class="t" style="left:2313.10px;top:647.64px;font-size:25px;line-height:25px;letter-spacing:-0.058px;color:#1c73f0;">Explain the Model</span>
<span class="t" style="left:2383.25px;top:678.24px;font-size:25px;line-height:25px;letter-spacing:-0.292px;color:#1c73f0;">Used</span>
<span class="t" style="left:1750.50px;top:762.64px;font-size:25px;line-height:25px;letter-spacing:0.287px;">Potential Drivers</span>
<span class="t" style="left:2033.30px;top:759.24px;font-size:25px;line-height:25px;letter-spacing:-0.242px;">Increase</span>
<span class="t" style="left:2033.48px;top:790.28px;font-size:22px;line-height:22px;letter-spacing:0.278px;">(in First Reply Time in</span>
<span class="t" style="left:2033.48px;top:818.68px;font-size:22px;line-height:22px;letter-spacing:0.583px;">hrs)</span>
<span class="t" style="left:2315.00px;top:759.24px;font-size:25px;line-height:25px;letter-spacing:-0.026px;">Impact on Overall</span>
<span class="t" style="left:2315.00px;top:791.14px;font-size:25px;line-height:25px;letter-spacing:0.307px;">increase <i>(of</i></span>
<span class="t" style="left:2315.00px;top:822.74px;font-size:25px;line-height:25px;letter-spacing:1.161px;font-style:italic;">37,661.78)</span>
<span class="t" style="left:1750.30px;top:898.84px;font-size:25px;line-height:25px;letter-spacing:-0.554px;">Email</span>
<span class="t" style="left:1750.24px;top:938.49px;font-size:26px;line-height:26px;letter-spacing:0.707px;font-style:italic;color:#444;">from</span>
<span class="t" style="left:1810.20px;top:939.34px;font-size:25px;line-height:25px;letter-spacing:-0.117px;">Ticket Source</span>
<span class="t" style="left:2044.60px;top:904.04px;font-size:25px;line-height:25px;letter-spacing:0.273px;">33,315.39</span>
<span class="t" style="left:2058.82px;top:943.23px;font-size:23px;line-height:23px;letter-spacing:-0.051px;">33.45%</span>
<span class="t" style="left:2313.20px;top:898.84px;font-size:25px;line-height:25px;letter-spacing:0.312px;">11.59%</span>
<span class="t" style="left:2390.18px;top:944.94px;font-size:27px;line-height:27px;letter-spacing:0.199px;font-style:italic;color:#1a70f3;">know more</span>
<span class="t" style="left:1750.30px;top:1032.74px;font-size:25px;line-height:25px;letter-spacing:0.816px;">Medium</span>
<span class="t" style="left:1750.24px;top:1072.39px;font-size:26px;line-height:26px;letter-spacing:0.707px;font-style:italic;color:#444;">from</span>
<span class="t" style="left:1810.20px;top:1073.24px;font-size:25px;line-height:25px;letter-spacing:0.608px;">Ticket Priority</span>
<span class="t" style="left:2044.60px;top:1037.94px;font-size:25px;line-height:25px;letter-spacing:0.273px;">28,880.48</span>
<span class="t" style="left:2058.82px;top:1077.13px;font-size:23px;line-height:23px;letter-spacing:-0.051px;">26.65%</span>
<span class="t" style="left:2313.20px;top:1032.74px;font-size:25px;line-height:25px;letter-spacing:-0.098px;">7.66%</span>
<span class="t" style="left:2390.18px;top:1078.84px;font-size:27px;line-height:27px;letter-spacing:0.199px;font-style:italic;color:#1a70f3;">know more</span>
<span class="t" style="left:1750.30px;top:1167.04px;font-size:25px;line-height:25px;letter-spacing:-0.074px;">Phone</span>
<span class="t" style="left:1750.24px;top:1206.69px;font-size:26px;line-height:26px;letter-spacing:0.707px;font-style:italic;color:#444;">from</span>
<span class="t" style="left:1810.20px;top:1207.54px;font-size:25px;line-height:25px;letter-spacing:-0.117px;">Ticket Source</span>
<span class="t" style="left:2044.60px;top:1172.24px;font-size:25px;line-height:25px;letter-spacing:0.273px;">12,000.95</span>
<span class="t" style="left:2058.82px;top:1211.43px;font-size:23px;line-height:23px;letter-spacing:-0.051px;">10.26%</span>
<span class="t" style="left:2313.20px;top:1167.04px;font-size:25px;line-height:25px;letter-spacing:-0.098px;">4.17%</span>
<span class="t" style="left:2390.18px;top:1213.14px;font-size:27px;line-height:27px;letter-spacing:0.199px;font-style:italic;color:#1a70f3;">know more</span>
<div class="abs" style="left:2431.2px;top:1173.8px;width:70px;height:70px;box-sizing:border-box;border-radius:50%;background:#2a57d2;border:3px solid #3063dd"></div>
<svg class="abs" style="left:2431.5px;top:1174.5px" width="69" height="69" viewBox="0 0 69 69" fill="#2a57d2" stroke="#e3e9f9" stroke-width="1.7" stroke-linejoin="round"><path d="M49.0,36.9 A15,11.6 0 1 0 42.3,41.0 L50.2,45.6 Z"/><path d="M24.3,45.6 A10,8.3 0 1 0 19.3,42.0 L19.3,47.6 Z"/></svg>
<script>(function(){var w=window.innerWidth;if(w&&Math.abs(w-2584)>2){document.body.style.transformOrigin="0 0";document.body.style.transform="scale("+(w/2584)+")";}})();</script>
</body></html>
